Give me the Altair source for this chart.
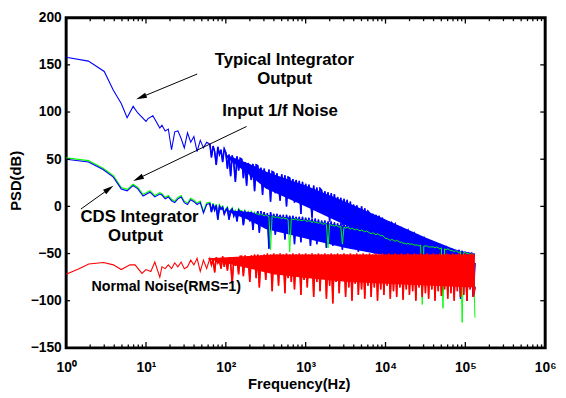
import math
import altair as alt
import pandas as pd

W, H = 486, 335

# ---------------- data ----------------
TYP_F = [1, 1.9, 3, 3.9, 4.9, 5.8, 6.9, 7.9, 10, 10.6, 12.2, 14.9]
TYP_V = [158, 154, 143, 123, 109, 94, 106, 99, 90, 93, 96, 83]

CDS_F = [1, 1.9, 2.9, 3.9, 4.9, 5.8, 6.9, 7.9, 9.2, 11.2, 12.9, 14.9]
CDS_V = [50, 47, 39, 31, 18.5, 16.5, 22, 18.5, 11, 15, 10, 13]

RED_F = [1, 1.45, 1.92, 2.94, 3.9, 4.9, 6.3, 7.3, 8.9, 10, 11.5, 12.9, 14.9]
RED_V = [-72, -66, -61, -59.5, -62, -67, -62, -62, -71, -67, -69, -59, -75]

# shared frequency grid of the dense part (Hz)
GRID_F = [15.85, 17.38, 19.05, 20.89, 22.91, 25.12, 27.54, 30.2, 33.11, 36.31,
          39.81, 43.65, 47.86, 52.48, 57.54,
          63.1, 66.07, 69.18, 72.44, 75.86, 79.43, 83.18, 87.1, 91.2, 95.5,
          100, 104.7, 109.6, 114.8, 120.2, 125.9, 131.8, 138, 144.5, 151.4,
          158.5, 166, 173.8, 182, 190.5, 199.5, 208.9, 218.8, 229.1, 239.9,
          251.2, 263, 275.4, 288.4, 302, 316.2, 331.1, 346.7, 363.1, 380.2,
          398.1, 416.9, 436.5, 457.1, 478.6, 501.2, 524.8, 549.5, 575.4, 602.6,
          631, 660.7, 691.8, 724.4, 758.6, 794.3, 831.8, 871, 912, 955,
          1000, 1047, 1096, 1148, 1202, 1259, 1318, 1380, 1445, 1514,
          1585, 1660, 1738, 1820, 1905, 1995, 2089, 2188, 2291, 2399,
          2512, 2630, 2754, 2884, 3020, 3162, 3311, 3467, 3631, 3802,
          3981, 4169, 4365, 4571, 4786, 5012, 5248, 5495, 5754, 6026,
          6310, 6607, 6918, 7244, 7586, 7943, 8318, 8710, 9120, 9550,
          10000, 10470, 10960, 11480, 12020, 12590, 13180, 13800, 14450, 15140,
          15850, 16600, 17380, 18200, 19050, 19950, 20890, 21880, 22910, 23990,
          25120, 26300, 27540, 28840, 30200, 31620, 33110, 34670, 36310, 38020,
          39810, 41690, 43650, 45710, 47860, 50120, 52480, 54950, 57540, 60260,
          63100, 66070, 69180, 72440, 75860, 79430, 83180, 87100, 91200, 95500,
          100000, 104700, 109600, 114800, 120200, 125900, 131800]

TYP_GRID = [86, 80, 82, 60, 79, 80, 72, 62, 78, 68, 74, 58, 70, 62, 68,
            66, 52, 64, 58, 44, 63, 55, 60, 47, 61,
            57, 40, 55, 32, 54, 45, 26, 53, 38, 51,
            50, 30, 47, 22, 46, 36, 28, 45, 16, 44,
            43, 26, 41, 12, 40, 30, 20, 39, 5, 37,
            36, 14, 35, 22, 6, 34, 17, 33, 0, 31,
            30, 10, 29, 4, 28, 14, 27, -8, 26, 8,
            24, 2, 23, 9, -12, 22, 4, 20, -6, 19,
            17, -3, 16, 1, 15, -16, 14, -2, 13, -10,
            10, -7, 9, -20, 8, -6, 7, -14, 5, -24,
            2, -16, 1, -11, -28, 0, -18, -2, -22, -5,
            -7, -18, -8, -24, -9, -15, -10, -20, -12, -28,
            -15, -25, -16, -30, -18, -22, -19, -34, -21, -28,
            -24, -36, -25, -30, -26, -40, -28, -33, -29, -38,
            -32, -44, -33, -38, -34, -46, -35, -50, -37, -42,
            -39, -52, -40, -45, -42, -60, -43, -48, -44, -55,
            -46, -58, -47, -70, -48, -54, -49, -80, -50, -62,
            -51, -88, -51, -70, -52, -95, -60]

CDS_GRID = [12, 8, 10, 6, 4, 8, 10, 4, 2, 7, 5, 2, 4, -7, 2,
            3, -6, 2, -4, 1, -14, 0, -3, -1, -8,
            -4, -2, -14, -5, -3, -10, -5, -16, -4, -6,
            -6, -20, -6, -9, -7, -16, -6, -25, -7, -12,
            -5, -28, -5, -14, -6, -22, -7, -45, -6, -18,
            -8, -30, -8, -19, -9, -25, -9, -35, -9, -20,
            -10, -28, -10, -40, -11, -22, -11, -38, -11, -26,
            -12, -30, -12, -42, -13, -24, -13, -40, -14, -32,
            -15, -34, -15, -44, -16, -28, -16, -42, -17, -36,
            -18, -38, -18, -46, -19, -30, -19, -44, -20, -40,
            -21, -42, -21, -48, -22, -34, -23, -46, -23, -40,
            -25, -45, -25, -50, -26, -38, -27, -48, -27, -42,
            -30, -48, -30, -54, -31, -42, -32, -52, -32, -46,
            -34, -50, -35, -56, -35, -46, -36, -54, -36, -48,
            -38, -55, -38, -60, -39, -50, -39, -58, -40, -52,
            -41, -58, -42, -62, -42, -54, -43, -66, -43, -56,
            -45, -60, -45, -92, -46, -58, -46, -98, -47, -64,
            -48, -100, -49, -70, -49, -96, -85]

# Input 1/f noise: low part (under the CDS curve) and high part (over it)
GREEN_LOW_F = CDS_F + GRID_F[:44]
GREEN_LOW_V = [51.5, 48.5, 40.5, 32.5, 20, 18, 23.5, 20, 12.5, 16.5, 11.5, 14.5,
               13.5, 9.5, 11.5, 7.5, 5.5, 9.5, 11.5, 5.5, 3.5, 8.5, 6.5, 3.5, 5.5, -5.5, 3.5,
               4.5, -4.5, 3.5, -2.5, 2.5, -12.5, 1.5, -1.5, 0.5, -6.5,
               -2.5, -0.5, -12.5, -3.5, -1.5, -8.5, -3.5, -14.5, -2.5, -4.5,
               -4.5, -18.5, -4.5, -7.5, -5.5, -14.5, -4.5, -23.5, -5.5]
GREEN_HIGH_F = GRID_F[43:]
GREEN_HIGH_V = [-7, -8,
                -8, -9, -8, -9, -10, -9, -10, -11, -46, -10,
                -11, -12, -11, -12, -12, -13, -12, -13, -13, -14,
                -48, -13, -14, -14, -13, -15, -14, -15, -15, -14,
                -15, -16, -15, -16, -17, -16, -17, -17, -18, -17,
                -18, -19, -18, -19, -44, -19, -20, -20, -21, -20,
                -21, -22, -21, -40, -22, -23, -22, -23, -24, -23,
                -24, -25, -24, -25, -26, -25, -26, -27, -26, -27,
                -28, -29, -28, -29, -30, -29, -30, -31, -31, -32,
                -34, -34, -35, -36, -35, -36, -37, -36, -37, -38,
                -38, -39, -39, -40, -39, -40, -40, -40, -41, -41,
                -41, -42, -41, -104, -42, -42, -42, -43, -43, -43,
                -43, -44, -43, -44, -45, -44, -108, -45, -46, -45,
                -46, -47, -47, -48, -47, -48, -49, -48, -123, -49,
                -49, -50, -50, -51, -50, -51, -118]

RED_GRID = [-64, -66, -62, -66, -60, -64, -59, -66, -64, -57, -62, -55, -69, -57, -66,
            -55, -62, -56, -70, -54, -60, -57, -66, -53, -64,
            -55, -68, -54, -60, -82, -54, -63, -56, -72, -53,
            -53, -74, -52, -62, -53, -80, -52, -66, -51, -76,
            -51, -86, -52, -64, -51, -78, -50, -70, -51, -90,
            -50, -72, -51, -84, -50, -68, -51, -92, -50, -76,
            -51, -80, -50, -88, -51, -70, -50, -94, -51, -78,
            -50, -86, -51, -74, -50, -96, -51, -80, -50, -90,
            -51, -76, -50, -98, -51, -84, -50, -103, -51, -80,
            -50, -92, -51, -78, -50, -96, -51, -86, -50, -100,
            -51, -82, -50, -94, -51, -88, -50, -98, -51, -84,
            -50, -96, -51, -86, -50, -100, -51, -88, -50, -94,
            -51, -84, -50, -98, -51, -90, -50, -96, -51, -86,
            -50, -99, -51, -88, -50, -94, -51, -90, -50, -100,
            -51, -86, -50, -96, -51, -92, -50, -98, -51, -88,
            -50, -100, -51, -90, -50, -95, -51, -88, -50, -98,
            -51, -92, -50, -100, -51, -90, -50, -96, -51, -94,
            -50, -100, -51, -88, -50, -96, -86]

# solid cores of the dense bands
TYP_CORE_F = [100, 200, 316, 1000, 3162, 10000, 31623, 100000, 131800]
TYP_CORE_HI = [55, 45, 37, 22, 5, -14, -33, -50, -52]
TYP_CORE_LO = [52, 33, 19, 0, -20, -38, -48, -52, -52]
CDS_CORE_F = [100, 200, 316, 1000, 3162, 10000, 31623, 131800]
CDS_CORE_HI = [-4, -6, -9, -14, -21, -32, -41, -50]
CDS_CORE_LO = [-5, -15, -24, -34, -44, -52, -54, -54]
RED_CORE_F = [60, 158, 400, 1000, 3162, 10000, 131800]
RED_CORE_HI = [-55, -53, -51, -51, -51, -51, -51]
RED_CORE_LO = [-56, -64, -72, -76, -80, -82, -86]

# annotations
TEXT_LABEL = ["Typical Integrator", "Output", "Input 1/f Noise",
              "CDS Integrator", "Output", "Normal Noise(RMS=1)"]
TEXT_F = [540, 545, 478, 8.3, 7.4, 17.9]
TEXT_V = [155.5, 135, 100.5, -11.5, -32, -86]
TEXT_SIZE = [17, 17, 17, 17, 17, 14.5]

ARROW_F1 = [43.8, 181.6, 1.53]
ARROW_V1 = [140.3, 84.7, -2.8]
ARROW_F2 = [7.53, 6.91, 3.91]
ARROW_V2 = [113.5, 27.0, 21.9]

X_TICKS = [1, 10, 100, 1000, 10000, 100000, 1000000]
Y_TICKS = [-150, -100, -50, 0, 50, 100, 150, 200]

for a, b in [(TYP_GRID, GRID_F), (CDS_GRID, GRID_F), (RED_GRID, GRID_F),
             (GREEN_LOW_V, GREEN_LOW_F), (GREEN_HIGH_V, GREEN_HIGH_F)]:
    assert len(a) == len(b), (len(a), len(b))

# ---------------- chart ----------------
FONT = "Liberation Sans"
xs = alt.Scale(type="log", domain=[1, 1000000])
ys = alt.Scale(domain=[-150, 200])

x_axis = alt.Axis(values=X_TICKS,
                  labelExpr="'10' + ['\u2070','\u00b9','\u00b2','\u00b3','\u2074','\u2075','\u2076'][round(log(datum.value)/LN10)]",
                  labelFont=FONT, labelFontWeight="bold", labelFontSize=14, labelColor="black",
                  labelPadding=13, labelBaseline="top", labelFlush=False, labelOverlap=False,
                  ticks=False, tickSize=0, domain=False, grid=False,
                  title="Frequency(Hz)", titleFont=FONT, titleFontWeight="bold", titleFontSize=15,
                  titleColor="black", titleX=236, titleY=41, titleAlign="center",
                  titleBaseline="alphabetic")
y_axis = alt.Axis(values=Y_TICKS, labelFont=FONT, labelFontWeight="bold", labelFontSize=14,
                  labelColor="black", labelPadding=5, labelFlush=False, labelOverlap=False,
                  ticks=False, tickSize=0, domain=False, grid=False,
                  title="PSD(dB)", titleFont=FONT, titleFontWeight="bold", titleFontSize=15,
                  titleColor="black", titleX=-46.5, titleY=165, titleAngle=270,
                  titleAlign="center", titleBaseline="alphabetic")


def X(field):
    return alt.X(field, scale=xs, axis=x_axis)


def Y(field):
    return alt.Y(field, scale=ys, axis=y_axis)


def line(f, v, color, width=1.0):
    df = pd.DataFrame({"f": f, "v": v})
    return alt.Chart(df).mark_line(color=color, strokeWidth=width).encode(
        x=X("f:Q"), y=Y("v:Q"))


def core(f, hi, lo, color):
    df = pd.DataFrame({"f": f, "hi": hi, "lo": lo})
    return alt.Chart(df).mark_area(color=color, opacity=1).encode(
        x=X("f:Q"), y=Y("hi:Q"), y2="lo:Q")


BLUE, GREEN, RED = "#0000ff", "#00ff00", "#ff0000"
D = 15  # first grid index of the densest part (63 Hz)

layers = [
    line(TYP_F + GRID_F, TYP_V + TYP_GRID, BLUE, 1.1),
    line(GRID_F[D:], TYP_GRID[D:], BLUE, 1.6),
    core(TYP_CORE_F, TYP_CORE_HI, TYP_CORE_LO, BLUE),
    line(GREEN_LOW_F, GREEN_LOW_V, GREEN, 1.2),
    core(CDS_CORE_F, CDS_CORE_HI, CDS_CORE_LO, BLUE),
    line(CDS_F + GRID_F, CDS_V + CDS_GRID, BLUE, 1.1),
    line(GRID_F[D:], CDS_GRID[D:], BLUE, 1.6),
    line(GREEN_HIGH_F, GREEN_HIGH_V, GREEN, 1.0),
    core(RED_CORE_F, RED_CORE_HI, RED_CORE_LO, RED),
    line(RED_F + GRID_F, RED_V + RED_GRID, RED, 1.1),
    line(GRID_F[D:], RED_GRID[D:], RED, 1.6),
]

# inward tick marks
minor = [m * 10 ** k for k in range(6) for m in range(2, 10)]
tick_x_major = pd.DataFrame({"f": X_TICKS})
tick_x_minor = pd.DataFrame({"f": minor})
tick_y = pd.DataFrame({"v": Y_TICKS[1:-1]})
for df, ln in [(tick_x_major, 6), (tick_x_minor, 3.5)]:
    for y0, y1 in [(H, H - ln), (0, ln)]:
        layers.append(alt.Chart(df).mark_rule(color="black", strokeWidth=1.3).encode(
            x=X("f:Q"), y=alt.value(y0), y2=alt.value(y1)))
for x0, x1 in [(W, W - 5), (0, 4)]:
    layers.append(alt.Chart(tick_y).mark_rule(color="black", strokeWidth=1.3).encode(
        y=Y("v:Q"), x=alt.value(x0), x2=alt.value(x1)))


# arrows
def px(f):
    return math.log10(f) / 6 * W


def py(v):
    return (200 - v) / 350 * H


rows = []
HEAD = 11
for f1, v1, f2, v2 in zip(ARROW_F1, ARROW_V1, ARROW_F2, ARROW_V2):
    dx, dy = px(f2) - px(f1), py(v2) - py(v1)
    L = math.hypot(dx, dy)
    ux, uy = dx / L, dy / L
    cx, cy = px(f2) - ux * HEAD / 2, py(v2) - uy * HEAD / 2
    rows.append({"f": f1, "v": v1,
                 "fc": 10 ** (cx / W * 6), "vc": 200 - cy / H * 350,
                 "ang": math.degrees(math.atan2(ux, -uy)) % 360})
arr = pd.DataFrame(rows)
layers.append(alt.Chart(arr).mark_rule(color="black", strokeWidth=1).encode(
    x=X("f:Q"), x2="fc:Q", y=Y("v:Q"), y2="vc:Q"))
layers.append(alt.Chart(arr).mark_point(shape="M0,-1L0.5,1L-0.5,1Z", filled=True,
                                         color="black", opacity=1, size=HEAD * HEAD).encode(
    x=X("fc:Q"), y=Y("vc:Q"), angle=alt.Angle("ang:Q", scale=None)))

txt = pd.DataFrame({"label": TEXT_LABEL, "f": TEXT_F, "v": TEXT_V, "size": TEXT_SIZE})
layers.append(alt.Chart(txt).mark_text(font=FONT, fontWeight="bold", color="black",
                                       align="center", baseline="middle").encode(
    x=X("f:Q"), y=Y("v:Q"), text="label:N", size=alt.Size("size:Q", scale=None)))

chart = alt.layer(*layers).properties(
    width=W, height=H,
    autosize=alt.AutoSizeParams(type="none"),
    padding={"left": 59, "top": 7, "right": 13, "bottom": 48},
    background="white",
).configure_view(stroke="black", strokeWidth=3)

chart.save("out.html", embed_options={"renderer": "svg", "actions": False})
